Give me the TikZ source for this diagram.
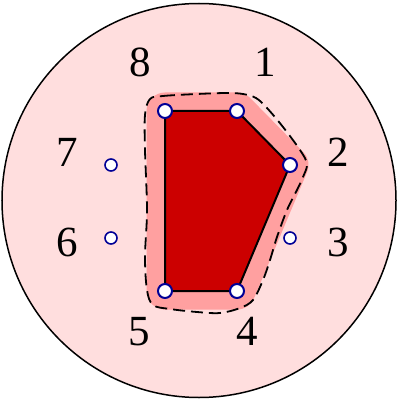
\documentclass[tikz,border=0pt]{standalone}
\usepackage{fontspec}
\setmainfont{Liberation Serif}
\definecolor{bgpink}{RGB}{255,222,222}
\definecolor{bandred}{RGB}{255,160,160}
\definecolor{polyred}{RGB}{204,0,0}
\definecolor{ptblue}{RGB}{0,0,150}
\tikzset{
  vert/.style={circle,draw=ptblue,fill=white,line width=2pt,minimum size=14pt,inner sep=0pt},
  freept/.style={circle,draw=ptblue,fill=white,line width=1.6pt,minimum size=12pt,inner sep=0pt},
  lab/.style={font=\fontsize{43}{43}\selectfont,inner sep=0pt}
}
\begin{document}
\begin{tikzpicture}[x=1pt,y=-1pt]
\useasboundingbox (0,0) rectangle (398,401);
\draw[fill=bgpink,line width=1.5pt] (199,200.5) circle (197);
% coordinates
\coordinate (p8) at (165,111);
\coordinate (p1) at (237,111);
\coordinate (p2) at (290,165);
\coordinate (p3) at (290,238);
\coordinate (p4) at (237,291);
\coordinate (p5) at (165,291);
\coordinate (p6) at (111,238);
\coordinate (p7) at (111,165);
% band
\draw[bandred,fill=bandred,line width=37pt,line join=round] (p8) -- (p1) -- (p2) -- (p4) -- (p5) -- cycle;
% dashed outline
\draw[line width=1.8pt,dash pattern=on 12pt off 6pt] plot[smooth cycle,tension=0.55] coordinates {
 (150,99) (163,96) (197,94) (227,93) (243,94) (256,98) (267,108) (283,127) (300,150) (307,164) (303,177) (297,190) (287,210) (277,237) (270,260) (263,280) (253,300) (240,308) (220,313) (197,312) (170,309) (153,305) (147,290) (145,257) (147,210) (145,150) (145,115)};
% polygon
\draw[fill=polyred,line width=2pt,line join=miter] (p8) -- (p1) -- (p2) -- (p4) -- (p5) -- cycle;
% points
\node[vert] (n8) at (p8) {};
\node[vert] (n1) at (p1) {};
\node[vert] (n2) at (p2) {};
\node[vert] (n4) at (p4) {};
\node[vert] (n5) at (p5) {};
\node[freept] (n3) at (p3) {};
\node[freept] (n6) at (p6) {};
\node[freept] (n7) at (p7) {};
% labels
\node[lab] (l8) at (140,62) {8};
\node[lab] (l1) at (265,62) {1};
\node[lab] (l2) at (338,152) {2};
\node[lab] (l3) at (338,242) {3};
\node[lab] (l4) at (247,331) {4};
\node[lab] (l5) at (139,332) {5};
\node[lab] (l6) at (67,242) {6};
\node[lab] (l7) at (67,152) {7};
\end{tikzpicture}
\end{document}
